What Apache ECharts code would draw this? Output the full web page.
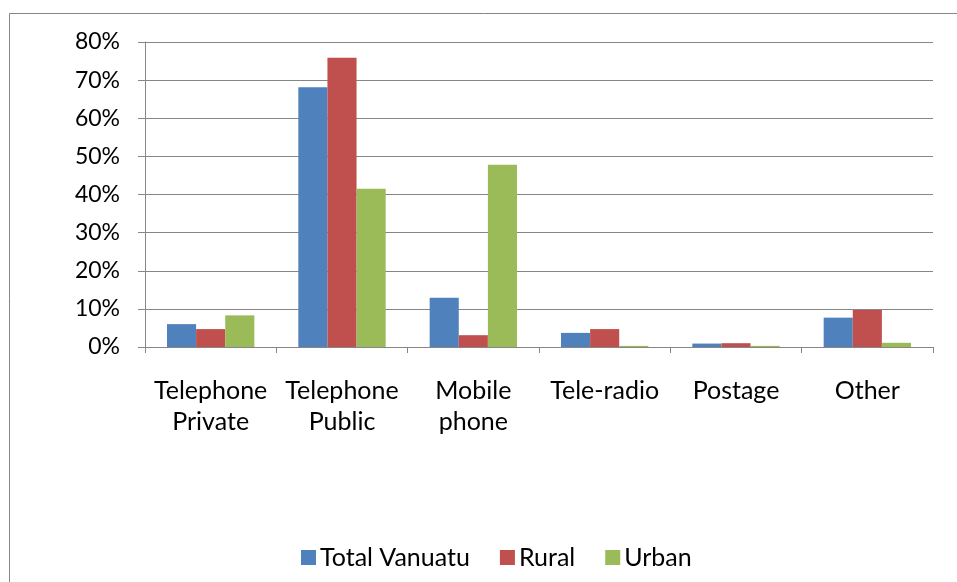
<!DOCTYPE html>
<html>
<head>
<meta charset="utf-8">
<script src="https://cdn.jsdelivr.net/npm/echarts@6/dist/echarts.min.js"></script>
<style>
  html, body { margin: 0; padding: 0; background: #fff; }
  #chart { width: 957px; height: 582px; }
</style>
</head>
<body>
<div id="chart"></div>
<script>
const categories = ["Telephone\nPrivate", "Telephone\nPublic", "Mobile\nphone", "Tele-radio", "Postage", "Other"];
const totalVanuatu = [6.0, 68.1, 12.9, 3.7, 0.9, 7.7];
const rural = [4.7, 75.9, 3.1, 4.7, 1.0, 9.7];
const urban = [8.3, 41.5, 47.8, 0.3, 0.3, 1.1];
const seriesNames = ["Total Vanuatu", "Rural", "Urban"];
const colors = ["#4f81bd", "#c0504d", "#9bbb59"];

const chart = echarts.init(document.getElementById("chart"));
const font = "Lato, 'Open Sans', sans-serif";

const barSeries = [totalVanuatu, rural, urban].map((data, i) => ({
  name: seriesNames[i],
  type: "bar",
  data: data,
  barGap: "0%",
  barCategoryGap: "33.5%",
  itemStyle: { color: colors[i] },
}));

chart.setOption({
  animation: false,
  textStyle: { fontFamily: font, color: "#000" },
  graphic: [
    {
      type: "rect",
      shape: { x: 9.5, y: 13.5, width: 980, height: 600 },
      style: { fill: "none", stroke: "#868686", lineWidth: 1 },
      silent: true,
    },
  ],
  grid: { left: 145, right: 24, top: 42, bottom: 235 },
  legend: {
    bottom: 7,
    left: 296,
    itemWidth: 15,
    itemHeight: 15,
    itemGap: 30,
    icon: "rect",
    textStyle: { fontSize: 25, fontFamily: font, color: "#000", padding: [0, 0, 0, -1] },
    data: seriesNames,
  },
  xAxis: {
    type: "category",
    data: categories,
    axisLine: { lineStyle: { color: "#868686", width: 1 } },
    axisTick: { show: true, length: 6, lineStyle: { color: "#868686" } },
    axisLabel: {
      interval: 0,
      hideOverlap: false,
      fontSize: 25,
      lineHeight: 31,
      margin: 28,
      color: "#000",
      fontFamily: font,
    },
  },
  yAxis: {
    type: "value",
    min: 0,
    max: 80,
    interval: 10,
    axisLine: { show: true, lineStyle: { color: "#868686", width: 1 } },
    axisTick: { show: true, length: 7, lineStyle: { color: "#868686" } },
    splitLine: { lineStyle: { color: "#868686", width: 1 } },
    axisLabel: { fontSize: 23, margin: 25, color: "#000", fontFamily: font, formatter: "{value}%" },
  },
  series: barSeries,
});
</script>
</body>
</html>
